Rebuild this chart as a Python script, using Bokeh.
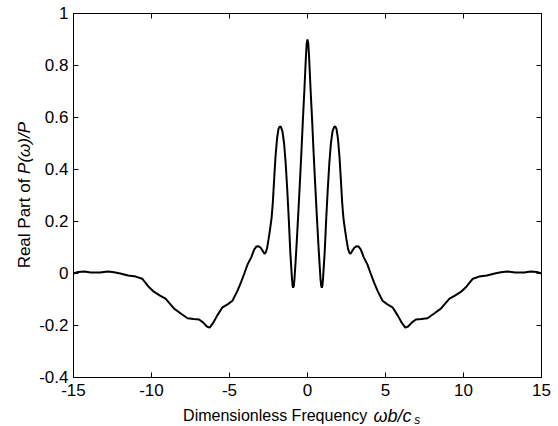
from math import pi
from bokeh.plotting import figure
from bokeh.models import Range1d, FixedTicker, LinearAxis, Label
from bokeh.embed import file_html
from bokeh.resources import INLINE

# Real part of P(omega)/P versus dimensionless frequency
freq = [-15.0, -14.7, -14.3, -13.9, -13.3, -12.8, -12.4, -12.0, -11.5, -11.0,
        -10.6, -10.2, -9.85, -9.45, -9.1, -8.55, -8.1, -7.69, -7.3, -6.95,
        -6.7, -6.45, -6.27, -6.05, -5.8, -5.45, -5.1, -4.81, -4.5, -4.27,
        -4.05, -3.84, -3.6, -3.42, -3.27, -3.15, -3.0, -2.85, -2.76, -2.7,
        -2.6, -2.5, -2.4, -2.3, -2.22, -2.14, -2.05, -1.95, -1.86, -1.78,
        -1.7, -1.6, -1.5, -1.4, -1.3, -1.2, -1.1, -1.0, -0.96, -0.92,
        -0.88, -0.84, -0.78, -0.7, -0.6, -0.5, -0.4, -0.3, -0.2, -0.1,
        -0.05, 0.0, 0.05, 0.1, 0.2, 0.3, 0.4, 0.5, 0.6, 0.7,
        0.78, 0.84, 0.88, 0.92, 0.96, 1.0, 1.1, 1.2, 1.3, 1.4,
        1.5, 1.6, 1.7, 1.78, 1.86, 1.95, 2.05, 2.14, 2.22, 2.3,
        2.4, 2.5, 2.6, 2.7, 2.76, 2.85, 3.0, 3.15, 3.27, 3.42,
        3.6, 3.84, 4.05, 4.27, 4.5, 4.81, 5.1, 5.45, 5.8, 6.05,
        6.27, 6.45, 6.7, 6.95, 7.3, 7.69, 8.1, 8.55, 9.1, 9.45,
        9.85, 10.2, 10.6, 11.0, 11.5, 12.0, 12.4, 12.8, 13.3, 13.9,
        14.3, 14.7, 15.0]
real_part = [0.000, 0.006, 0.008, 0.004, 0.004, 0.008, 0.005, 0.000, -0.008, -0.012,
             -0.020, -0.050, -0.070, -0.085, -0.097, -0.135, -0.155, -0.172, -0.175, -0.177,
             -0.188, -0.204, -0.208, -0.190, -0.163, -0.130, -0.118, -0.105, -0.068, -0.035,
             0.000, 0.035, 0.063, 0.092, 0.104, 0.105, 0.099, 0.085, 0.076, 0.078,
             0.095, 0.130, 0.170, 0.215, 0.275, 0.360, 0.450, 0.520, 0.556, 0.566,
             0.563, 0.545, 0.500, 0.425, 0.325, 0.210, 0.080, -0.015, -0.045, -0.055,
             -0.048, -0.025, 0.030, 0.110, 0.220, 0.335, 0.455, 0.585, 0.705, 0.835,
             0.885, 0.900, 0.885, 0.835, 0.705, 0.585, 0.455, 0.335, 0.220, 0.110,
             0.030, -0.025, -0.048, -0.055, -0.045, -0.015, 0.080, 0.210, 0.325, 0.425,
             0.500, 0.545, 0.563, 0.566, 0.556, 0.520, 0.450, 0.360, 0.275, 0.215,
             0.170, 0.130, 0.095, 0.078, 0.076, 0.085, 0.099, 0.105, 0.104, 0.092,
             0.063, 0.035, 0.000, -0.035, -0.068, -0.105, -0.118, -0.130, -0.163, -0.190,
             -0.208, -0.204, -0.188, -0.177, -0.175, -0.172, -0.155, -0.135, -0.097, -0.085,
             -0.070, -0.050, -0.020, -0.012, -0.008, 0.000, 0.005, 0.008, 0.004, 0.004,
             0.008, 0.006, 0.000]

x_ticks = [-15, -10, -5, 0, 5, 10, 15]
x_tick_labels = ["-15", "-10", "-5", "0", "5", "10", "15"]
y_ticks = [-0.4, -0.2, 0, 0.2, 0.4, 0.6, 0.8, 1]
y_tick_labels = ["-0.4", "-0.2", "0", "0.2", "0.4", "0.6", "0.8", "1"]
x_lim = (-15, 15)
y_lim = (-0.4, 1)

FONT = "Liberation Sans"
FS = "17px"

# the frame spans the whole canvas; the box axes sit at the data limits
p = figure(width=558, height=426,
           x_range=Range1d(-19.679, 16.090), y_range=Range1d(-0.5885, 1.05),
           output_backend="svg", toolbar_location=None,
           min_border_left=0, min_border_right=0, min_border_top=0, min_border_bottom=0)
p.background_fill_color = "white"
p.border_fill_color = "white"
p.outline_line_color = None
p.xgrid.visible = False
p.ygrid.visible = False

p.line(freq, real_part, line_color="black", line_width=2)


def style_axis(ax, ticks, labels, bounds, loc, show_labels, standoff):
    ax.ticker = FixedTicker(ticks=ticks)
    ax.major_label_overrides = {t: l for t, l in zip(ticks, labels)}
    ax.bounds = bounds
    ax.fixed_location = loc
    ax.minor_tick_line_color = None
    ax.major_tick_in = 5
    ax.major_tick_out = 0
    ax.major_tick_line_color = "black"
    ax.axis_line_color = "black"
    ax.axis_line_width = 1
    ax.major_label_text_font = FONT
    ax.major_label_text_font_size = FS
    ax.major_label_standoff = standoff
    ax.major_label_text_color = "black" if show_labels else None


style_axis(p.xaxis[0], x_ticks, x_tick_labels, x_lim, y_lim[0], True, 7)
style_axis(p.yaxis[0], y_ticks, y_tick_labels, y_lim, x_lim[0], True, 5)

top_ax = LinearAxis()
p.add_layout(top_ax, "above")
style_axis(top_ax, x_ticks, x_tick_labels, x_lim, y_lim[1], False, 0)
right_ax = LinearAxis()
p.add_layout(right_ax, "right")
style_axis(right_ax, y_ticks, y_tick_labels, y_lim, x_lim[1], False, 0)


def add_text(x, y, text, size=FS, italic=False, align="left", baseline="alphabetic", angle=0):
    p.add_layout(Label(x=x, y=y, text=text, angle=angle, text_align=align,
                       text_baseline=baseline, text_font=FONT, text_font_size=size,
                       text_font_style="italic" if italic else "normal",
                       text_color="black"))


# y-axis title: "Real Part of " + italic "P(ω)/P"
add_text(-18.14, 0.365, "Real Part of", align="right", baseline="middle", angle=pi / 2)
add_text(-18.14, 0.383, "P(ω)/P", italic=True, align="left", baseline="middle", angle=pi / 2)

# x-axis title: "Dimensionless Frequency " + italic "ωb/c" + subscript "s"
XL_Y = -0.5462
add_text(3.827, XL_Y, "Dimensionless Frequency", size="16px", align="right")
add_text(4.232, XL_Y, "ωb/c", size="18px", italic=True)
add_text(6.85, -0.5654, "s", size="12px", italic=True)

open("out.html", "w").write(file_html(p, INLINE))
